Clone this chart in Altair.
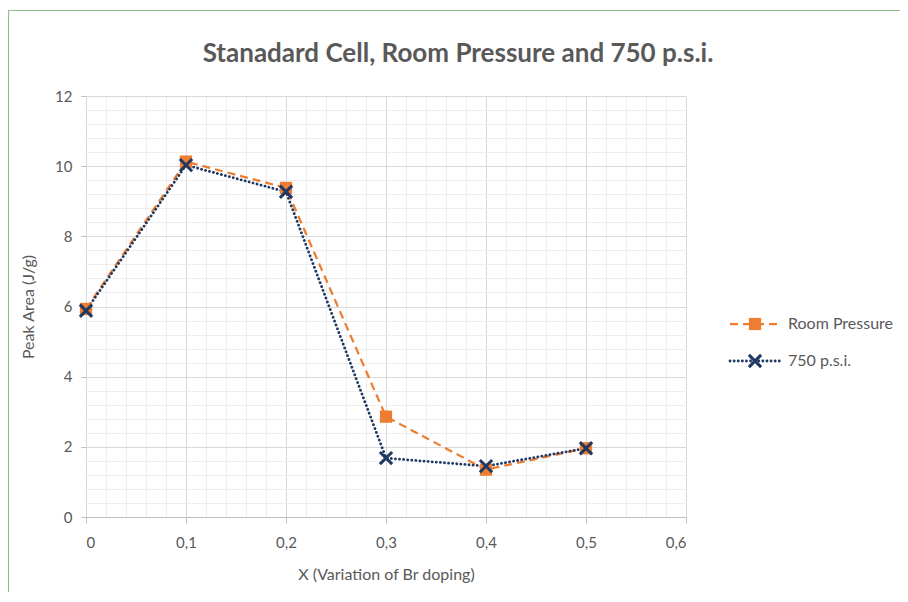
import altair as alt
import pandas as pd

# ---- data ----
x_vals = [0, 0.1, 0.2, 0.3, 0.4, 0.5]
room_pressure = [5.93, 10.13, 9.38, 2.86, 1.35, 1.96]
psi_750 = [5.88, 10.03, 9.27, 1.68, 1.45, 1.96]

x_ticks = [round(i * 0.02, 2) for i in range(31)]
y_ticks = [round(i * 0.4, 1) for i in range(31)]

title_text = "Stanadard Cell, Room Pressure and 750 p.s.i."
x_title = "X (Variation of Br doping)"
y_title = "Peak Area (J/g)"
series_names = ["Room Pressure", "750 p.s.i."]

ORANGE = "#ED7D31"
NAVY = "#203864"
GRAY = "#595959"
FONT = "Lato"

df = pd.DataFrame({"x": x_vals, "room": room_pressure, "psi": psi_750})

x_major = "abs(datum.value*10 - round(datum.value*10)) < 0.001"
y_major = "abs(datum.value/2 - round(datum.value/2)) < 0.001"

x_axis = alt.Axis(
    values=x_ticks,
    title=x_title,
    labelExpr=f"({x_major}) ? (datum.value == 0 ? '0' : replace(format(datum.value, '.1f'), '.', ',')) : ''",
    gridColor={"condition": {"test": x_major, "value": "#d9d9d9"}, "value": "#eeeeee"},
    tickColor={"condition": {"test": x_major, "value": "#bfbfbf"}, "value": "transparent"},
    tickSize=6,
    domainColor="#bfbfbf",
    labelPadding=12,
    titlePadding=16,
    labelFont=FONT, labelFontSize=15, labelColor=GRAY,
    titleFont=FONT, titleFontSize=16, titleColor=GRAY, titleFontWeight="normal",
)
y_axis = alt.Axis(
    values=y_ticks,
    title=y_title,
    labelExpr=f"({y_major}) ? format(datum.value, 'd') : ''",
    gridColor={"condition": {"test": y_major, "value": "#d9d9d9"}, "value": "#eeeeee"},
    tickColor={"condition": {"test": y_major, "value": "#bfbfbf"}, "value": "transparent"},
    tickSize=5,
    domain=False,
    labelPadding=9,
    titlePadding=18,
    labelFont=FONT, labelFontSize=15, labelColor=GRAY,
    titleFont=FONT, titleFontSize=16, titleColor=GRAY, titleFontWeight="normal",
)

X = alt.X("x:Q", scale=alt.Scale(domain=[0, 0.6], nice=False, zero=True), axis=x_axis)


def Y(field):
    return alt.Y(f"{field}:Q", scale=alt.Scale(domain=[0, 12], nice=False), axis=y_axis)


base = alt.Chart(df)

room_line = base.mark_line(color=ORANGE, strokeWidth=2.25, strokeDash=[8, 5]).encode(x=X, y=Y("room"))
psi_line = base.mark_line(color=NAVY, strokeWidth=2.8, strokeDash=[0.1, 4], strokeCap="round").encode(x=X, y=Y("psi"))
room_pts = base.mark_point(shape="square", filled=True, color=ORANGE, size=150, opacity=1).encode(x=X, y=Y("room"))
psi_pts = base.mark_point(
    shape="M-1,-1L1,1M-1,1L1,-1", filled=False, color=NAVY, size=150, strokeWidth=3, opacity=1
).encode(x=X, y=Y("psi"))

# ---- legend and title (decoration) ----
one = alt.Chart(pd.DataFrame({"k": [0]}))
leg = []
leg.append(one.mark_rule(color=ORANGE, strokeWidth=2.25, strokeDash=[8, 5]).encode(
    x=alt.value(644), x2=alt.value(695), y=alt.value(228)))
leg.append(one.mark_point(shape="square", filled=True, color=ORANGE, size=150, opacity=1).encode(
    x=alt.value(669), y=alt.value(228)))
leg.append(one.mark_text(align="left", baseline="middle", font=FONT, fontSize=16, color=GRAY).encode(
    x=alt.value(702), y=alt.value(228), text=alt.value(series_names[0])))
leg.append(one.mark_rule(color=NAVY, strokeWidth=2.8, strokeDash=[0.1, 4], strokeCap="round").encode(
    x=alt.value(644), x2=alt.value(695), y=alt.value(265)))
leg.append(one.mark_point(shape="M-1,-1L1,1M-1,1L1,-1", filled=False, color=NAVY, size=150, strokeWidth=3, opacity=1).encode(
    x=alt.value(669), y=alt.value(265)))
leg.append(one.mark_text(align="left", baseline="middle", font=FONT, fontSize=16, color=GRAY).encode(
    x=alt.value(702), y=alt.value(265), text=alt.value(series_names[1])))

title = one.mark_text(align="center", baseline="middle", font=FONT, fontSize=26, fontWeight="bold",
                      color=GRAY).encode(x=alt.value(372), y=alt.value(-42), text=alt.value(title_text))

# outer frame (decoration)
frame = one.mark_rect(fill="transparent", stroke="#8fbf8f", strokeWidth=1.2).encode(
    x=alt.value(-77.5), x2=alt.value(900), y=alt.value(-85.5), y2=alt.value(600))

chart = alt.layer(
    frame, title, room_line, psi_line, room_pts, psi_pts, *leg
).properties(
    width=600,
    height=421,
    background="white",
    autosize=alt.AutoSizeParams(type="none"),
    padding={"left": 78, "top": 88, "right": 214, "bottom": 75},
).configure_view(stroke=None)

chart.save("out.html", embed_options={"renderer": "svg", "actions": False})
